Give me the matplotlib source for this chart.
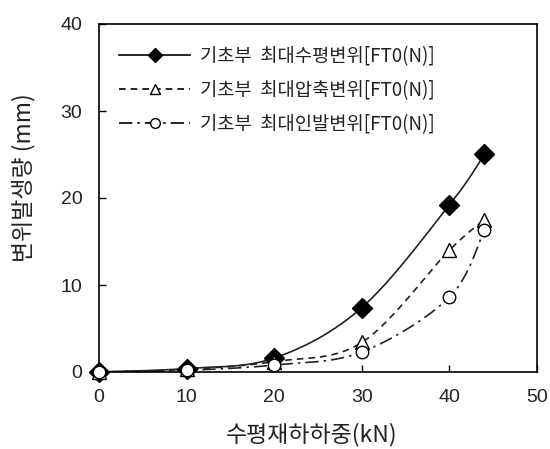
import numpy as np
import matplotlib
matplotlib.use("Agg")
import matplotlib.pyplot as plt
from matplotlib.lines import Line2D

plt.rcParams['font.family'] = ['Noto Sans CJK KR', 'DejaVu Sans']

load_kn = [0, 10, 20, 30, 40, 44]
horiz = [0, 0.4, 1.6, 7.4, 19.2, 25.0]
comp = [0, 0.3, 1.2, 3.4, 14.0, 17.5]
pull = [0, 0.2, 0.8, 2.3, 8.6, 16.3]
labels = ['기초부  최대수평변위[FT0(N)]',
          '기초부  최대압축변위[FT0(N)]',
          '기초부  최대인발변위[FT0(N)]']


def smooth(xs, ys, n=30, t=0.5):
    xs = np.asarray(xs, float); ys = np.asarray(ys, float)
    P = np.column_stack([xs, ys])
    P = np.vstack([P[0], P, P[-1]])
    out = []
    for i in range(1, len(P) - 2):
        p0, p1, p2, p3 = P[i - 1], P[i], P[i + 1], P[i + 2]
        c1 = p1 + (p2 - p0) * t / 3
        c2 = p2 - (p3 - p1) * t / 3
        s = np.linspace(0, 1, n)[:, None]
        seg = (1 - s) ** 3 * p1 + 3 * (1 - s) ** 2 * s * c1 + 3 * (1 - s) * s ** 2 * c2 + s ** 3 * p2
        out.append(seg if i == 1 else seg[1:])
    out = np.vstack(out)
    return out[:, 0], out[:, 1]


fig = plt.figure(figsize=(5.5, 4.49), dpi=100)
ax = fig.add_axes([99 / 550, 1 - 372 / 449, (537 - 99) / 550, (372 - 24) / 449])

styles = [
    dict(series=horiz, ls='-', marker='D', mfc='black', ms=10, lms=7, dashes=None),
    dict(series=comp, ls='--', marker='^', mfc='white', ms=10, lms=7, dashes=(4, 3)),
    dict(series=pull, ls='-.', marker='o', mfc='white', ms=9, lms=7, dashes=(8, 3, 1.5, 3)),
]
handles = []
for st, lab in zip(styles, labels):
    sx, sy = smooth(load_kn, st['series'])
    ln, = ax.plot(sx, sy, color='#222222', lw=1.2, ls=st['ls'])
    if st['dashes']:
        ln.set_dashes(st['dashes'])
    ax.plot(load_kn, st['series'], ls='none', marker=st['marker'], ms=st['ms'],
            mfc=st['mfc'], mec='black', mew=1.0, clip_on=False, zorder=5)
    h = Line2D([], [], color='black', lw=1.2, ls=st['ls'], marker=st['marker'],
               ms=st['lms'], mfc=st['mfc'], mec='black')
    if st['dashes']:
        h.set_dashes(st['dashes'])
    handles.append(h)

ax.set_xlim(0, 50)
ax.set_ylim(0, 40)
ax.set_xticks([0, 10, 20, 30, 40, 50])
ax.set_yticks([0, 10, 20, 30, 40])
ax.tick_params(direction='in', length=5, width=1, labelsize=14, colors='black',
               labelcolor='#222222')
ax.tick_params(axis='y', pad=12)
ax.tick_params(axis='x', pad=12)
for lbl in ax.get_xticklabels() + ax.get_yticklabels():
    lbl.set_family(['Liberation Sans', 'DejaVu Sans'])
for sp in ax.spines.values():
    sp.set_linewidth(1.2)

ax.set_xlabel('수평재하하중(kN)', fontsize=16.5, color='#222222')
ax.set_ylabel('변위발생량 (mm)', fontsize=16.5, color='#222222')
ax.xaxis.set_label_coords((312 - 99) / 438, (372 - 423) / 348)
ax.yaxis.set_label_coords((35 - 99) / 438, (372 - 178) / 348)

leg = ax.legend(handles, labels, loc='upper left', frameon=False, fontsize=13.5,
                handlelength=3.8, handletextpad=0.5, labelspacing=0.7,
                bbox_to_anchor=(0.02, 0.97), borderaxespad=0.2,
                labelcolor='#222222')

fig.savefig('out.png', dpi=100)
